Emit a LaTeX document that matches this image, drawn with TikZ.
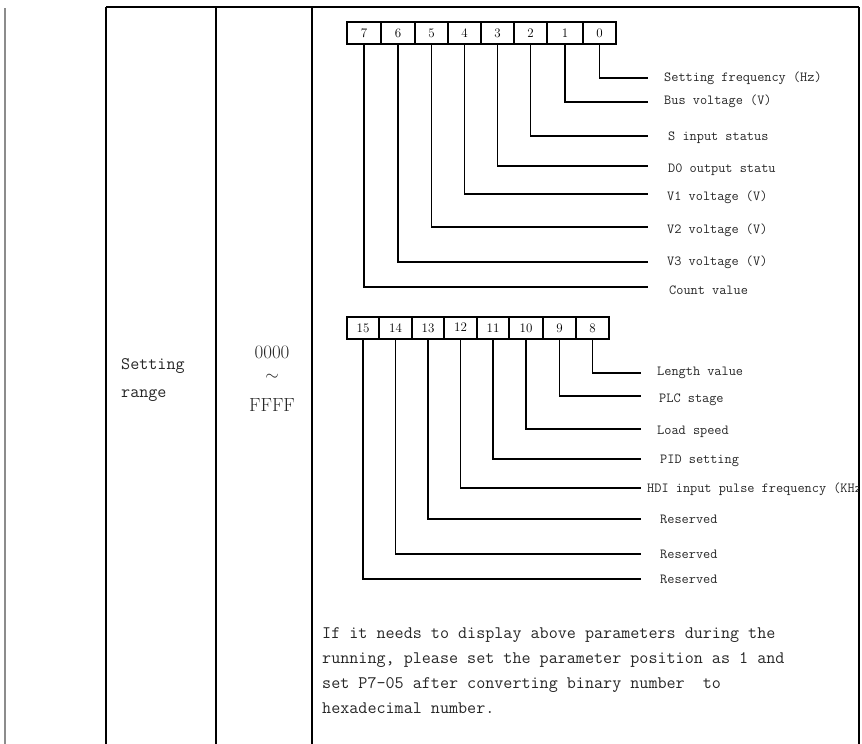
\documentclass[tikz,border=0pt]{standalone}
\begin{document}
\begin{tikzpicture}[x=1pt,y=-1pt,
  tbl/.style={line width=1.3pt},
  bitbox/.style={draw,line width=1.4pt,inner sep=0pt,outer sep=0pt,minimum height=22pt,font=\fontsize{13}{13}\selectfont},
  conn/.style={line width=1.6pt},
  lbl/.style={anchor=base west,inner sep=0pt,font=\ttfamily\fontsize{13.9}{14}\selectfont,text=black!85},
  body/.style={anchor=base west,inner sep=0pt,font=\ttfamily\fontsize{17.6}{20}\selectfont,text=black!85},
  rng/.style={anchor=base,inner sep=0pt,font=\fontsize{19}{19}\selectfont,text=black!85}]
\useasboundingbox (0,0) rectangle (862,744);

% table frame
\draw[line width=1.5pt,black!45] (5,8) -- (5,744);
\draw[tbl] (106,7) -- (859,7);
\draw[tbl] (106,7) -- (106,744);
\draw[tbl] (216,7) -- (216,744);
\draw[tbl] (312,7) -- (312,744);
\draw[tbl] (859,7) -- (859,744);

% left cells
\node[body] (sr1) at (121,369) {Setting};
\node[body] (sr2) at (121,397) {range};
\node[rng] (r1) at (272,358) {0000};
\node[inner sep=0pt,font=\fontsize{19}{19}\selectfont,text=black!85] (r2) at (272,377) {$\sim$};
\node[rng] (r3) at (272,411) {FFFF};

% upper bit boxes
\node[bitbox,minimum width=34pt] (b7) at (364,33) {7};
\node[bitbox,minimum width=34pt] (b6) at (398,33) {6};
\node[bitbox,minimum width=33pt] (b5) at (431.5,33) {5};
\node[bitbox,minimum width=33pt] (b4) at (464.5,33) {4};
\node[bitbox,minimum width=33pt] (b3) at (497.5,33) {3};
\node[bitbox,minimum width=33pt] (b2) at (530.5,33) {2};
\node[bitbox,minimum width=36pt] (b1) at (565,33) {1};
\node[bitbox,minimum width=33pt] (b0) at (599.5,33) {0};

\coordinate (e0) at (648,78);
\coordinate (e1) at (648,102);
\coordinate (e2) at (648,136);
\coordinate (e3) at (648,166);
\coordinate (e4) at (648,194);
\coordinate (e5) at (648,227);
\coordinate (e6) at (648,262);
\coordinate (e7) at (648,287);
\foreach \i in {0,...,7} { \draw[conn] (b\i.south) |- (e\i); }

\node[lbl] (l0) at (664,81) {Setting frequency (Hz)};
\node[lbl] (l1) at (664,104) {Bus voltage (V)};
\node[lbl] (l2) at (668,140) {S input status};
\node[lbl] (l3) at (668,172) {D0 output statu};
\node[lbl] (l4) at (667,200) {V1 voltage (V)};
\node[lbl] (l5) at (667,233) {V2 voltage (V)};
\node[lbl] (l6) at (667,265) {V3 voltage (V)};
\node[lbl] (l7) at (669,294) {Count value};

% lower bit boxes
\node[bitbox,minimum width=32pt] (b15) at (363,328) {15};
\node[bitbox,minimum width=33pt] (b14) at (395.5,328) {14};
\node[bitbox,minimum width=32pt] (b13) at (428,328) {13};
\node[bitbox,minimum width=33pt] (b12) at (460.5,328) {\raisebox{1.5pt}{12}};
\node[bitbox,minimum width=32pt] (b11) at (493,328) {11};
\node[bitbox,minimum width=34pt] (b10) at (526,328) {10};
\node[bitbox,minimum width=33pt] (b9) at (559.5,328) {9};
\node[bitbox,minimum width=33pt] (b8) at (592.5,328) {8};

\coordinate (e8) at (641,373);
\coordinate (e9) at (641,396);
\coordinate (e10) at (641,429);
\coordinate (e11) at (641,459);
\coordinate (e12) at (641,488);
\coordinate (e13) at (641,519);
\coordinate (e14) at (641,554);
\coordinate (e15) at (641,579);
\foreach \i in {8,...,15} { \draw[conn] (b\i.south) |- (e\i); }

\node[lbl] (l8) at (657,375) {Length value};
\node[lbl] (l9) at (659,402) {PLC stage};
\node[lbl] (l10) at (657,434) {Load speed};
\node[lbl] (l11) at (660,463) {PID setting};
\begin{scope}
\clip (600,470) rectangle (858,500);
\node[lbl] (l12) at (647,492) {HDI input pulse frequency (KHz)};
\end{scope}
\node[lbl] (l13) at (660,523) {Reserved};
\node[lbl] (l14) at (660,558) {Reserved};
\node[lbl] (l15) at (660,583) {Reserved};

% note
\node[body] (p1) at (322,638) {If it needs to display above parameters during the};
\node[body] (p2) at (322,663) {running, please set the parameter position as 1 and};
\node[body] (p3) at (322,688) {set P7-05 after converting binary number\ \ to};
\node[body] (p4) at (322,713) {hexadecimal number.};
\end{tikzpicture}
\end{document}
